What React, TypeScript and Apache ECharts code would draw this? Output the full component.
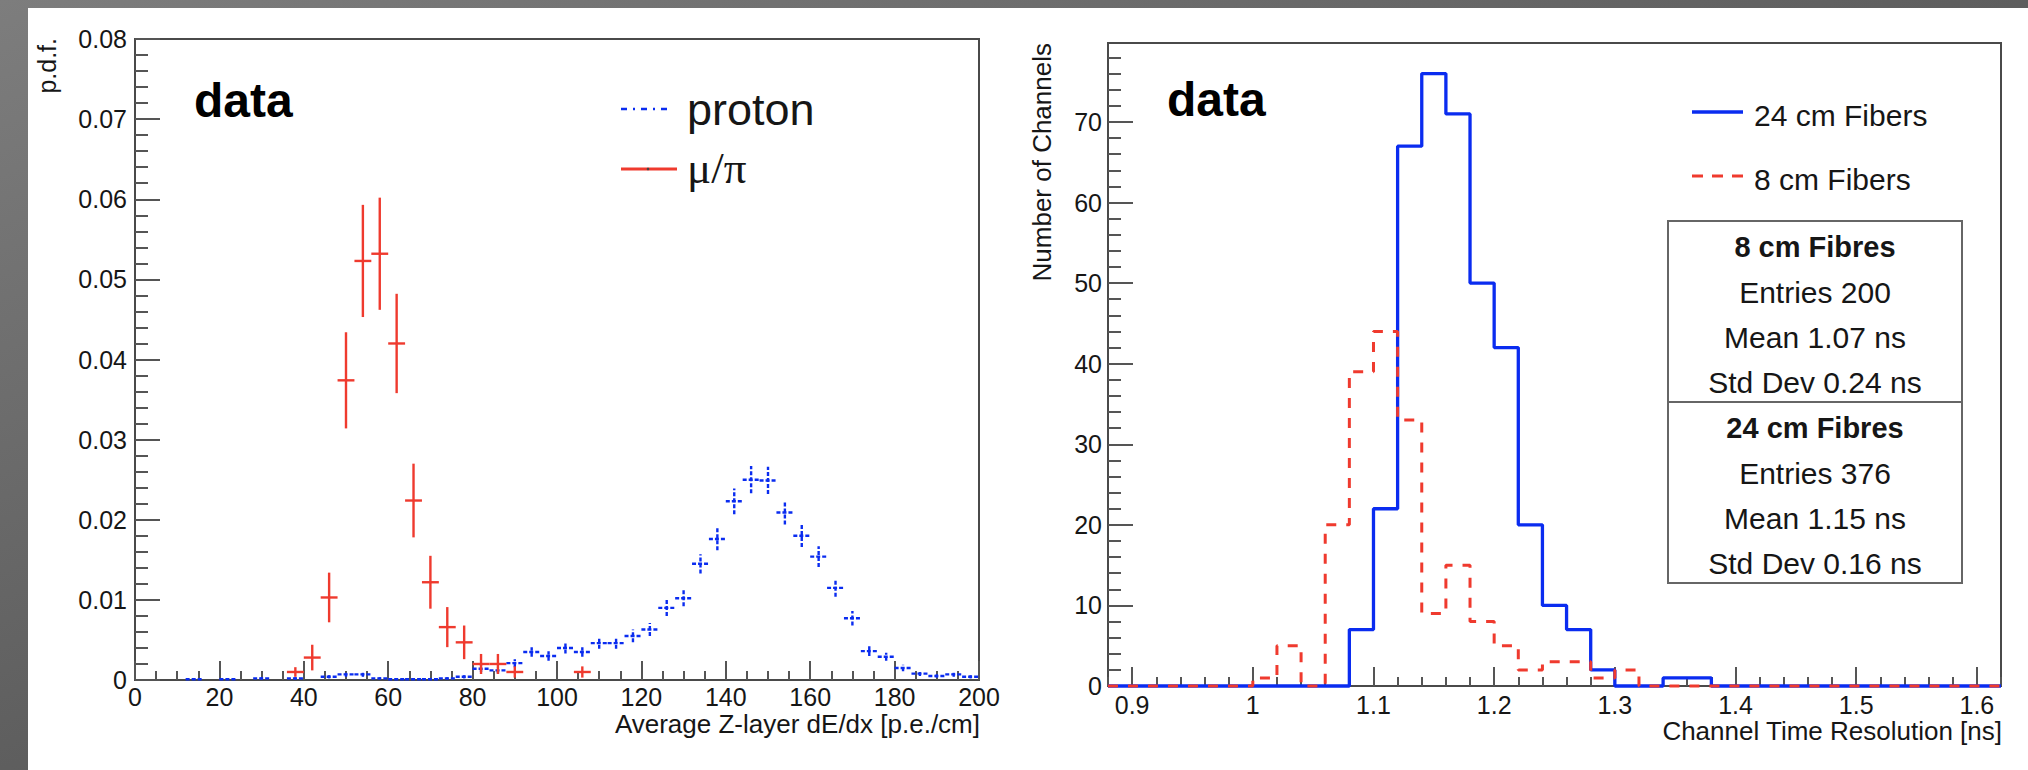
import React, { useEffect, useRef } from "react";
import * as echarts from "echarts";

// ---------- Left panel: Average Z-layer dE/dx (bin width 4 p.e./cm) ----------
const LEFT_BIN_WIDTH = 4;
const PROTON_X = [14, 22, 30, 38, 46, 50, 54, 58, 62, 66, 70, 74, 78,
  82, 86, 90, 94, 98, 102, 106, 110, 114, 118, 122, 126, 130, 134, 138, 142,
  146, 150, 154, 158, 162, 166, 170, 174, 178, 182, 186, 190, 194, 198];
const PROTON_Y = [0.0001, 0.0001, 0.0002, 0.0002, 0.0004, 0.0007, 0.0007, 0.0002, 0.0001, 0.0001, 0.0001, 0.0002, 0.0004,
  0.0014, 0.0012, 0.0021, 0.0035, 0.003, 0.004, 0.0035, 0.0046, 0.0046, 0.0055,
  0.0063, 0.009, 0.0102, 0.0145, 0.0176, 0.0223, 0.025, 0.0249, 0.0209, 0.018,
  0.0154, 0.0115, 0.0077, 0.0036, 0.0029, 0.0015, 0.0008, 0.0005, 0.0007, 0.0004];
const PROTON_ERR = [0.0001, 0.0001, 0.00015, 0.00015, 0.0002, 0.0003, 0.0003, 0.00015, 0.0001, 0.0001, 0.0001, 0.00015, 0.0002,
  0.0004, 0.0004, 0.0005, 0.0006, 0.0006, 0.0007, 0.0006, 0.0007, 0.0007, 0.0008,
  0.0008, 0.001, 0.001, 0.0012, 0.0014, 0.0016, 0.0017, 0.0017, 0.0015, 0.0014,
  0.0013, 0.0011, 0.0009, 0.0006, 0.0005, 0.0004, 0.0003, 0.0002, 0.0003, 0.0002];

const MUPI_X = [38, 42, 46, 50, 54, 58, 62, 66, 70, 74, 78, 82, 86, 90, 106];
const MUPI_Y = [0.001, 0.0028, 0.0103, 0.0374, 0.0523, 0.0532, 0.042, 0.0224, 0.0122, 0.0066, 0.0047, 0.002, 0.002, 0.001, 0.001];
const MUPI_ERR = [0.0006, 0.0016, 0.0031, 0.006, 0.007, 0.007, 0.0062, 0.0046, 0.0033, 0.0025, 0.0021, 0.00125, 0.00125, 0.0007, 0.0007];

// ---------- Right panel: Channel Time Resolution (bins of 0.02 ns from 0.88) ----------
const RIGHT_X_MIN = 0.88;
const RIGHT_X_MAX = 1.62;
const RIGHT_BIN_WIDTH = 0.02;
const FIBER24 = [0, 0, 0, 0, 0, 0, 0, 0, 0, 0,
  7, 22, 67, 76, 71, 50, 42, 20, 10, 7,
  2, 0, 0, 1, 1, 0, 0, 0, 0, 0,
  0, 0, 0, 0, 0, 0, 0];
const FIBER8 = [0, 0, 0, 0, 0, 0, 1, 5, 0, 20,
  39, 44, 33, 9, 15, 8, 5, 2, 3, 3,
  1, 2, 0, 0, 0, 0, 0, 0, 0, 0,
  0, 0, 0, 0, 0, 0, 0];

const RIGHT_X_TICKS = [0.9, 1.0, 1.1, 1.2, 1.3, 1.4, 1.5, 1.6];
const RIGHT_Y_TICKS = [0, 10, 20, 30, 40, 50, 60, 70];
const RIGHT_Y_MAX = 79.8;

const STATS_8 = ["8 cm Fibres", "Entries 200", "Mean 1.07 ns", "Std Dev 0.24 ns"];
const STATS_24 = ["24 cm Fibres", "Entries 376", "Mean 1.15 ns", "Std Dev 0.16 ns"];

const FONT = '"Liberation Sans", Arial, Helvetica, sans-serif';
const BLUE = "#0a2cf0";
const RED = "#ef3a2e";
const TXT = "#161616";
const AXC = "#4a4a4a";

function stepData(vals: number[]) {
  const pts: number[][] = vals.map((v, i) => [+(RIGHT_X_MIN + i * RIGHT_BIN_WIDTH).toFixed(2), v]);
  pts.push([RIGHT_X_MAX, vals[vals.length - 1]]);
  return pts;
}

function errRender(color: string, dash: number[] | null, width: number) {
  return (params: any, api: any) => {
    const x = api.value(0);
    const y = api.value(1);
    const e = api.value(2);
    const h = LEFT_BIN_WIDTH / 2;
    const l = api.coord([x - h, y]);
    const r = api.coord([x + h, y]);
    const b = api.coord([x, Math.max(0, y - e)]);
    const t = api.coord([x, y + e]);
    const style: any = { stroke: color, lineWidth: width };
    if (dash) style.lineDash = dash;
    return {
      type: "group",
      children: [
        { type: "line", shape: { x1: l[0], y1: l[1], x2: r[0], y2: r[1] }, style },
        { type: "line", shape: { x1: b[0], y1: b[1], x2: t[0], y2: t[1] }, style },
      ],
    };
  };
}

export default function App() {
  const ref = useRef<HTMLDivElement>(null);
  useEffect(() => {
    document.body.style.margin = "0";
    if (!ref.current) return;
    const chart = echarts.init(ref.current, null, { renderer: "svg" });

    const minorX: number[] = [];
    for (let i = 0; i <= 37; i++) minorX.push(+(RIGHT_X_MIN + i * RIGHT_BIN_WIDTH).toFixed(2));
    const minorY: number[] = [];
    for (let v = 0; v <= 78; v += 2) minorY.push(v);

    const tickStyle = { color: "#555", width: 2 };
    const labelBase = { color: TXT, fontFamily: FONT, fontSize: 25 };

    const statsTexts: any[] = [];
    const statsY8 = [247, 292, 337, 382];
    const statsY24 = [428, 473, 518, 563];
    STATS_8.forEach((s, i) => statsTexts.push({
      type: "text", x: 1815, y: statsY8[i], z: 20,
      style: { text: s, fontFamily: FONT, fontSize: i === 0 ? 29 : 30, fontWeight: i === 0 ? "bold" : "normal", fill: TXT, align: "center", verticalAlign: "middle" },
    }));
    STATS_24.forEach((s, i) => statsTexts.push({
      type: "text", x: 1815, y: statsY24[i], z: 20,
      style: { text: s, fontFamily: FONT, fontSize: i === 0 ? 29 : 30, fontWeight: i === 0 ? "bold" : "normal", fill: TXT, align: "center", verticalAlign: "middle" },
    }));

    const option: any = {
      animation: false,
      graphic: [
        {
          type: "rect", z: -20, shape: { x: 0, y: 0, width: 2028, height: 770 },
          style: {
            fill: {
              type: "linear", x: 0, y: 0, x2: 1, y2: 1,
              colorStops: [{ offset: 0, color: "#7d7d7d" }, { offset: 0.5, color: "#5e5e5e" }, { offset: 1, color: "#474747" }],
            },
          },
        },
        { type: "rect", z: -10, shape: { x: 28, y: 8, width: 2000, height: 762 }, style: { fill: "#ffffff" } },
        // panel labels
        { type: "text", x: 194, y: 100, z: 20, style: { text: "data", fontFamily: FONT, fontSize: 48, fontWeight: "bold", fill: "#000", verticalAlign: "middle" } },
        { type: "text", x: 1167, y: 99, z: 20, style: { text: "data", fontFamily: FONT, fontSize: 48, fontWeight: "bold", fill: "#000", verticalAlign: "middle" } },
        // left legend
        { type: "line", z: 20, shape: { x1: 621, y1: 109, x2: 671, y2: 109 }, style: { stroke: BLUE, lineWidth: 2.5, lineDash: [6, 6, 2, 6] } },
        { type: "text", x: 687, y: 109, z: 20, style: { text: "proton", fontFamily: FONT, fontSize: 45, fill: TXT, verticalAlign: "middle" } },
        { type: "line", z: 20, shape: { x1: 621, y1: 169, x2: 677, y2: 169 }, style: { stroke: RED, lineWidth: 3 } },
        { type: "circle", z: 21, shape: { cx: 648, cy: 169, r: 1.3 }, style: { fill: "#444" } },
        { type: "text", x: 687, y: 168, z: 20, style: { text: "μ/π", fontFamily: '"Liberation Serif", "Times New Roman", serif', fontSize: 45, fill: TXT, verticalAlign: "middle" } },
        // right legend
        { type: "line", z: 20, shape: { x1: 1692, y1: 112, x2: 1743, y2: 112 }, style: { stroke: BLUE, lineWidth: 3.3 } },
        { type: "text", x: 1754, y: 115, z: 20, style: { text: "24 cm Fibers", fontFamily: FONT, fontSize: 30, fill: TXT, verticalAlign: "middle" } },
        { type: "line", z: 20, shape: { x1: 1692, y1: 176, x2: 1743, y2: 176 }, style: { stroke: RED, lineWidth: 3, lineDash: [11, 9] } },
        { type: "text", x: 1754, y: 179, z: 20, style: { text: "8 cm Fibers", fontFamily: FONT, fontSize: 30, fill: TXT, verticalAlign: "middle" } },
        // stats box
        { type: "rect", z: 15, shape: { x: 1668, y: 221, width: 294, height: 362 }, style: { fill: "#fff", stroke: "#666", lineWidth: 2 } },
        { type: "line", z: 16, shape: { x1: 1668, y1: 402, x2: 1962, y2: 402 }, style: { stroke: "#666", lineWidth: 2 } },
        ...statsTexts,
        // axis titles
        { type: "text", x: 980, y: 724, z: 20, style: { text: "Average Z-layer dE/dx [p.e./cm]", fontFamily: FONT, fontSize: 26, fill: TXT, align: "right", verticalAlign: "middle" } },
        { type: "text", x: 2002, y: 731, z: 20, style: { text: "Channel Time Resolution [ns]", fontFamily: FONT, fontSize: 26, fill: TXT, align: "right", verticalAlign: "middle" } },
        { type: "text", x: 47, y: 38, rotation: Math.PI / 2, z: 20, style: { text: "p.d.f.", fontFamily: FONT, fontSize: 25, fill: TXT, align: "right", verticalAlign: "middle" } },
        { type: "text", x: 1042, y: 43, rotation: Math.PI / 2, z: 20, style: { text: "Number of Channels", fontFamily: FONT, fontSize: 26, fill: TXT, align: "right", verticalAlign: "middle" } },
      ],
      grid: [
        { left: 135, top: 39, width: 844, height: 641, show: true, borderColor: AXC, borderWidth: 2, backgroundColor: "transparent" },
        { left: 1108, top: 43, width: 893, height: 643, show: true, borderColor: AXC, borderWidth: 2, backgroundColor: "transparent" },
      ],
      xAxis: [
        {
          gridIndex: 0, type: "value", min: 0, max: 200, interval: 20,
          axisLine: { show: false }, splitLine: { show: false },
          axisTick: { inside: true, length: 19, lineStyle: tickStyle },
          minorTick: { show: true, splitNumber: 4, length: 9, lineStyle: tickStyle },
          axisLabel: { ...labelBase, margin: 4 },
        },
        {
          gridIndex: 1, type: "value", min: RIGHT_X_MIN, max: RIGHT_X_MAX, position: "bottom",
          axisLine: { show: false }, splitLine: { show: false },
          axisTick: { inside: true, length: 19, lineStyle: tickStyle, customValues: RIGHT_X_TICKS },
          axisLabel: { ...labelBase, margin: 6, customValues: RIGHT_X_TICKS, formatter: (v: number) => String(+v.toFixed(2)) },
        },
        {
          gridIndex: 1, type: "value", min: RIGHT_X_MIN, max: RIGHT_X_MAX, position: "bottom",
          axisLine: { show: false }, splitLine: { show: false }, axisLabel: { show: false },
          axisTick: { inside: true, length: 9, lineStyle: tickStyle, customValues: minorX },
        },
      ],
      yAxis: [
        {
          gridIndex: 0, type: "value", min: 0, max: 0.08, interval: 0.01,
          axisLine: { show: false }, splitLine: { show: false },
          axisTick: { inside: true, length: 25, lineStyle: tickStyle },
          minorTick: { show: true, splitNumber: 5, length: 13, lineStyle: tickStyle },
          axisLabel: { ...labelBase, margin: 8, formatter: (v: number) => (v === 0 ? "0" : v.toFixed(2)) },
        },
        {
          gridIndex: 1, type: "value", min: 0, max: RIGHT_Y_MAX, position: "left",
          axisLine: { show: false }, splitLine: { show: false },
          axisTick: { inside: true, length: 25, lineStyle: tickStyle, customValues: RIGHT_Y_TICKS },
          axisLabel: { ...labelBase, margin: 6, customValues: RIGHT_Y_TICKS },
        },
        {
          gridIndex: 1, type: "value", min: 0, max: RIGHT_Y_MAX, position: "left",
          axisLine: { show: false }, splitLine: { show: false }, axisLabel: { show: false },
          axisTick: { inside: true, length: 13, lineStyle: tickStyle, customValues: minorY },
        },
      ],
      series: [
        {
          type: "custom", name: "proton", xAxisIndex: 0, yAxisIndex: 0, z: 5,
          renderItem: errRender(BLUE, [4, 2], 2.4),
          encode: { x: 0, y: 1 },
          data: PROTON_X.map((x, i) => [x, PROTON_Y[i], PROTON_ERR[i]]),
        },
        {
          type: "custom", name: "mu/pi", xAxisIndex: 0, yAxisIndex: 0, z: 6,
          renderItem: errRender(RED, null, 2.4),
          encode: { x: 0, y: 1 },
          data: MUPI_X.map((x, i) => [x, MUPI_Y[i], MUPI_ERR[i]]),
        },
        {
          type: "line", name: "24 cm Fibers", xAxisIndex: 1, yAxisIndex: 1, step: "end", z: 5,
          showSymbol: false, symbol: "none", clip: false,
          lineStyle: { color: BLUE, width: 3.3 },
          data: stepData(FIBER24),
        },
        {
          type: "line", name: "8 cm Fibers", xAxisIndex: 1, yAxisIndex: 1, step: "end", z: 6,
          showSymbol: false, symbol: "none", clip: false,
          lineStyle: { color: RED, width: 3, type: [10, 10] },
          data: stepData(FIBER8),
        },
      ],
    };
    chart.setOption(option);
    return () => chart.dispose();
  }, []);
  return <div ref={ref} style={{ width: 2028, height: 770 }} />;
}
